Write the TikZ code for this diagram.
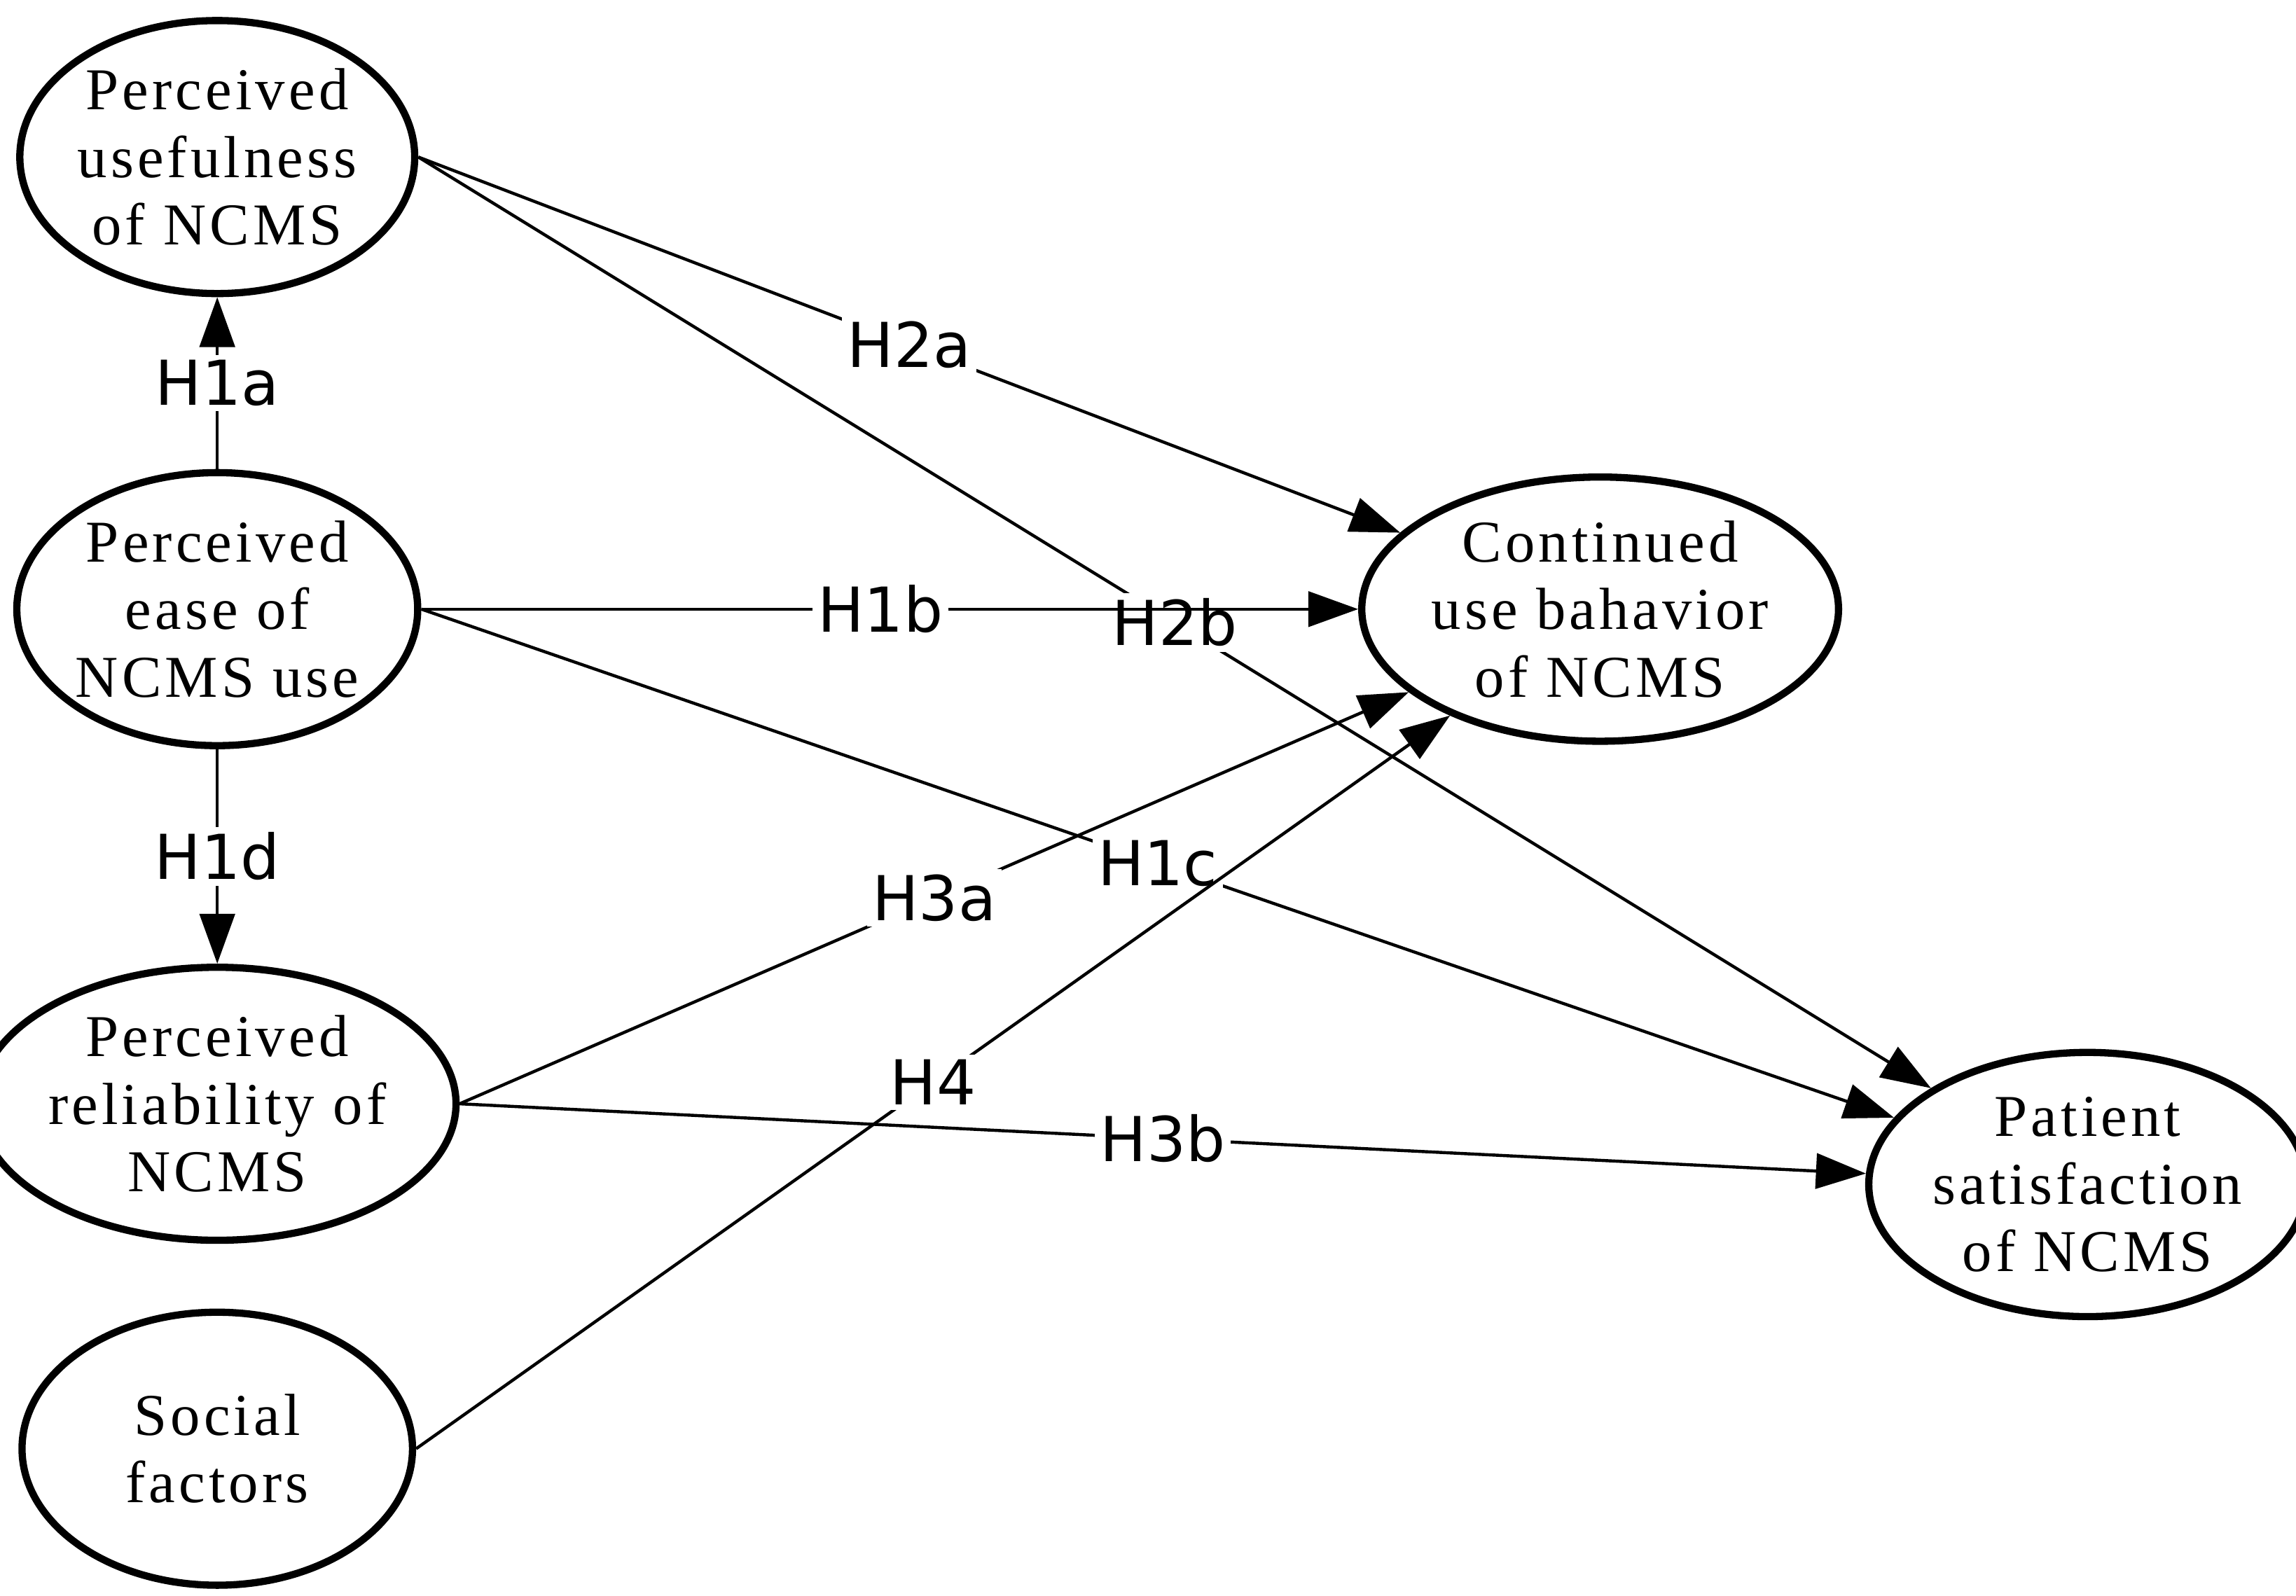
\documentclass[tikz,border=0pt]{standalone}
\usepackage{fontspec}
\setmainfont{Liberation Serif}[LetterSpace=6]
\newfontfamily\labfont{DejaVu Sans}
\usetikzlibrary{arrows.meta}
\usetikzlibrary{shapes.geometric}
\tikzset{
	construct/.style={ellipse,draw,line width=1.4pt,minimum width=2.66cm,minimum height=1.86cm,
		align=center,font=\fontsize{11.5}{13.1}\selectfont,inner sep=0pt},
	hyp/.style={-{Triangle[length=3.4mm,width=2.4mm]},line width=0.6pt},
	hlab/.style={fill=white,inner sep=1pt,font=\labfont\fontsize{12}{12}\selectfont}
}
\begin{document}
\begin{tikzpicture}
	\useasboundingbox (0,0) rectangle (15.64,10.87);

	% Constructs
	\node[construct] (PU) at (1.48,9.80) {Perceived\\usefulness\\of NCMS};
	\node[construct] (PE) at (1.48,6.72) {Perceived\\ease of\\NCMS use};
	\node[construct] (PR) at (1.48,3.35) {Perceived\\reliability of\\NCMS};
	\node[construct] (SF) at (1.48,1.00) {Social\\factors};
	\node[construct,minimum width=2.56cm,minimum height=1.80cm] (CU) at (10.90,6.72) {Continued\\use bahavior\\of NCMS};
	\node[construct,minimum width=2.60cm,minimum height=1.80cm] (PS) at (14.22,2.80) {Patient\\satisfaction\\of NCMS};

	% Hypotheses
	\draw[hyp] (PE) -- node[hlab] {H1a} (PU);
	\draw[hyp] (PE) -- node[hlab] {H1d} (PR);
	\draw[hyp] (PU.east) -- node[hlab] {H2a} (CU);
	\draw[hyp] (PU.east) -- node[hlab] {H2b} (PS);
	\draw[hyp] (PE) -- node[hlab,pos=0.49] {H1b} (CU);
	\draw[hyp] (PE.east) -- node[hlab] {H1c} (PS);
	\draw[hyp] (PR.east) -- node[hlab] {H3a} (CU);
	\draw[hyp] (PR.east) -- node[hlab] {H3b} (PS);
	\draw[hyp] (SF.east) -- node[hlab] {H4} (CU);
\end{tikzpicture}
\end{document}
